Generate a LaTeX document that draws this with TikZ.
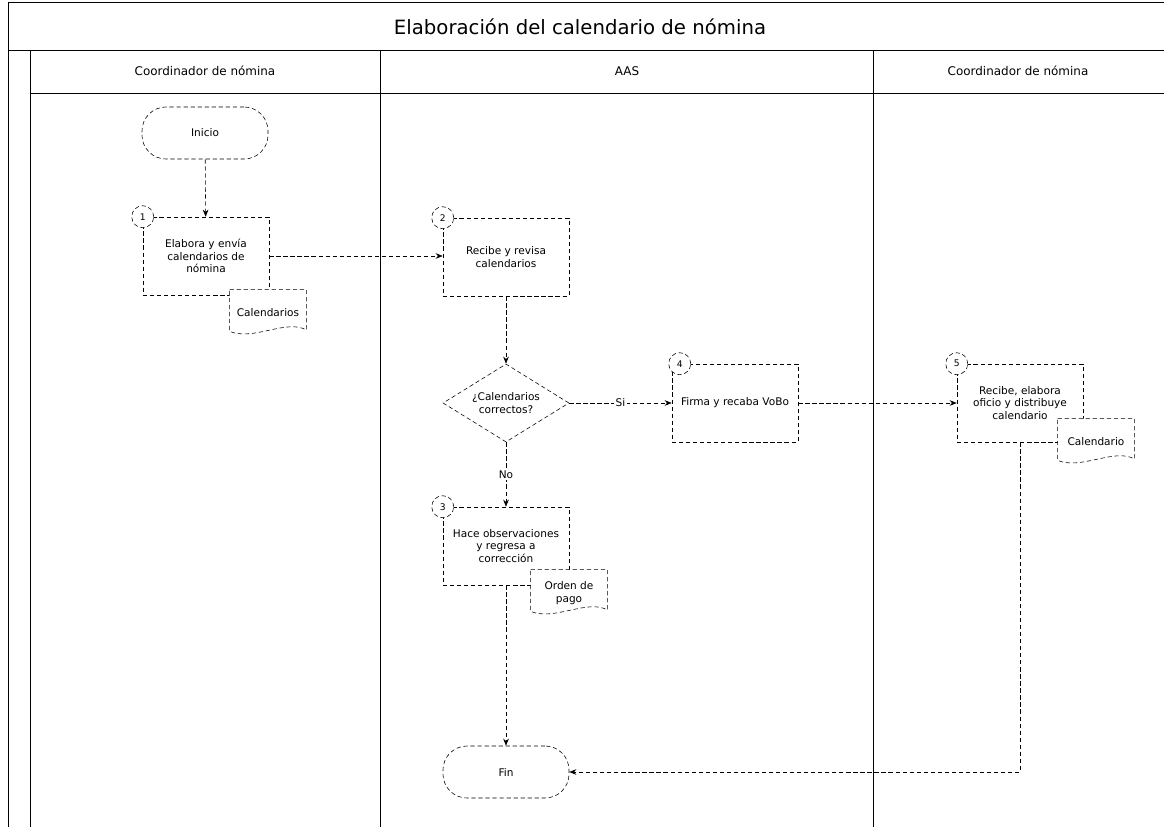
\documentclass[tikz,border=0pt]{standalone}
\usepackage{fontspec}
\setmainfont{DejaVu Sans}
\usetikzlibrary{shapes.geometric, arrows.meta, positioning}

\begin{document}
\begin{tikzpicture}[
        x=0.025cm, y=-0.025cm,
        lane/.style={line width=0.6pt},
        terminal/.style={draw, densely dashed, rectangle, rounded corners=0.6cm, minimum height=1.3cm, minimum width=3.15cm, align=center, font=\fontsize{7.5}{9}\selectfont},
        process/.style={draw, densely dashed, rectangle, minimum height=1.95cm, minimum width=3.15cm, inner xsep=2pt, align=center, font=\fontsize{7.5}{9}\selectfont},
        decision/.style={draw, densely dashed, diamond, aspect=1.8, minimum width=3.15cm, minimum height=1.95cm, inner sep=0pt, align=center, font=\fontsize{7.5}{9}\selectfont},
        docu/.style={rectangle, minimum width=1.95cm, minimum height=1.2cm, align=center, font=\fontsize{7.5}{9}\selectfont,
            path picture={
                \coordinate (dnw) at ([shift={(0.4pt,-0.4pt)}]path picture bounding box.north west);
                \coordinate (dne) at ([shift={(-0.4pt,-0.4pt)}]path picture bounding box.north east);
                \coordinate (dse) at ([shift={(-0.4pt,5pt)}]path picture bounding box.south east);
                \coordinate (dsw) at ([shift={(0.4pt,4pt)}]path picture bounding box.south west);
                \filldraw[fill=white, densely dashed] (dnw) -- (dne) -- (dse)
                    .. controls ([shift={(-0.5cm,8pt)}]dse) and ([shift={(0.6cm,-7pt)}]dsw) .. (dsw) -- cycle;
            }},
        numc/.style={draw, densely dashed, circle, fill=white, minimum size=0.55cm, inner sep=0pt, font=\fontsize{6.5}{6.5}\selectfont},
        arrow/.style={-{Stealth[length=5pt, width=4pt]}, densely dashed, thin},
        lbl/.style={fill=white, inner sep=1pt, font=\fontsize{7.5}{8}\selectfont}
    ]
    \useasboundingbox (0,0) rectangle (1164,827);

    % Frame and lanes
    \draw[lane] (8,827) -- (8,2) -- (1164,2);
    \draw[lane] (8,50) -- (1164,50);
    \draw[lane] (30,50) -- (30,827);
    \draw[lane] (30,93) -- (1164,93);
    \draw[lane] (380,50) -- (380,827);
    \draw[lane] (873,50) -- (873,827);

    \node (titulo) at (580,27) {\fontsize{14}{16}\selectfont Elaboración del calendario de nómina};
    \node (carril1) at (205,71) {\fontsize{8.5}{10}\selectfont Coordinador de nómina};
    \node (carril2) at (627,71) {\fontsize{8.5}{10}\selectfont AAS};
    \node (carril3) at (1018,71) {\fontsize{8.5}{10}\selectfont Coordinador de nómina};

    % Nodes
    \node (inicio) [terminal] at (205,133) {Inicio};
    \node (elabora) [process] at (206,256) {Elabora y envía\\calendarios de\\nómina};
    \node (cal1) [docu] at (268,313) {Calendarios};
    \node (recibe) [process] at (506,257) {Recibe y revisa\\calendarios};
    \node (correctos) [decision] at (506,403) {¿Calendarios\\correctos?};
    \node (firma) [process] at (735,403) {Firma y recaba VoBo};
    \node (oficio) [process] at (1020,403) {Recibe, elabora\\oficio y distribuye\\calendario};
    \node (cal5) [docu] at (1096,442) {Calendario};
    \node (observa) [process] at (506,546) {Hace observaciones\\y regresa a\\corrección};
    \node (orden) [docu] at (569,593) {Orden de\\pago};
    \node (fin) [terminal] at (506,772) {Fin};

    % Step numbers
    \node (n1) [numc] at (elabora.north west) {1};
    \node (n2) [numc] at (recibe.north west) {2};
    \node (n3) [numc] at (observa.north west) {3};
    \node (n4) [numc] at ([xshift=0.2cm]firma.north west) {4};
    \node (n5) [numc] at (oficio.north west) {5};

    % Paths
    \draw [arrow] (inicio) -- (elabora);
    \draw [arrow] (elabora.east) -- (elabora.east -| recibe.west);
    \draw [arrow] (recibe) -- (correctos);
    \draw [arrow] (correctos) -- node[lbl] {Si} (firma);
    \draw [arrow] (firma) -- (oficio);
    \draw [arrow] (correctos) -- node[lbl] {No} (observa);
    \draw [arrow] (observa) -- (fin);
    \draw [arrow] (oficio.south) |- (fin.east);
\end{tikzpicture}
\end{document}
